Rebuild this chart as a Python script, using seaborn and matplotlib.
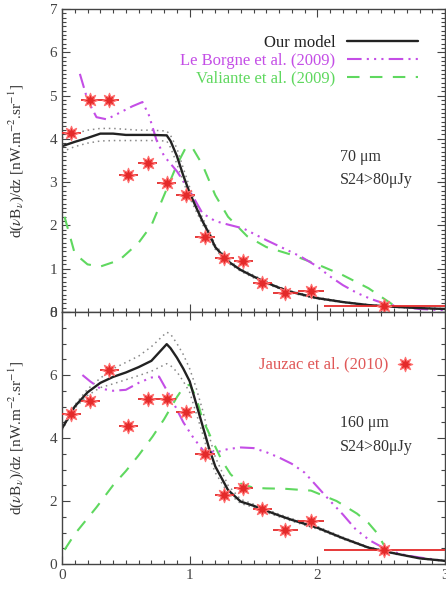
import numpy as np
import matplotlib
matplotlib.use('Agg')
import matplotlib.pyplot as plt
import seaborn as sns
from matplotlib.ticker import MultipleLocator

# Jauzac et al. (2010) stacking points
z_bins = [0.07, 0.22, 0.37, 0.52, 0.67, 0.82, 0.97, 1.12, 1.27, 1.42, 1.57, 1.75, 1.95, 2.52]
z_err_lo = [0.075, 0.075, 0.075, 0.075, 0.075, 0.075, 0.075, 0.075, 0.075, 0.075, 0.075, 0.1, 0.1, 0.47]
z_err_hi = [0.075, 0.075, 0.075, 0.075, 0.075, 0.075, 0.075, 0.075, 0.075, 0.075, 0.075, 0.1, 0.1, 0.5]
jauzac_70 = [4.13, 4.90, 4.90, 3.16, 3.44, 2.98, 2.70, 1.73, 1.25, 1.18, 0.67, 0.44, 0.48, 0.15]
jauzac_160 = [4.75, 5.16, 6.16, 4.37, 5.25, 5.25, 4.81, 3.49, 2.20, 2.42, 1.76, 1.07, 1.35, 0.44]

# our model + envelope
z_model = [0.0, 0.1, 0.2, 0.3, 0.4, 0.5, 0.6, 0.7, 0.82, 0.85, 0.9, 0.95, 1.0, 1.05, 1.1,
           1.15, 1.2, 1.3, 1.4, 1.5, 1.6, 1.7, 1.8, 2.0, 2.2, 2.4, 2.6, 2.8, 3.0]
model_70 = [3.83, 3.93, 4.02, 4.12, 4.12, 4.09, 4.09, 4.09, 4.08, 3.95, 3.6, 3.15, 2.75, 2.42, 2.1,
            1.82, 1.5, 1.17, 0.97, 0.82, 0.68, 0.56, 0.46, 0.32, 0.23, 0.16, 0.12, 0.09, 0.07]
upper_70 = [4.02, 4.12, 4.2, 4.24, 4.24, 4.22, 4.2, 4.2, 4.18, 4.08, 3.78, 3.32, 2.88, 2.52, 2.18,
            1.88, 1.55, 1.2, 1.0, 0.85, 0.7, 0.58, 0.48, 0.34, 0.24, 0.17, 0.13, 0.1, 0.08]
lower_70 = [3.7, 3.82, 3.9, 3.95, 3.96, 3.96, 3.96, 3.96, 3.95, 3.8, 3.42, 3.0, 2.64, 2.33, 2.03,
            1.76, 1.45, 1.13, 0.94, 0.79, 0.65, 0.54, 0.44, 0.3, 0.22, 0.15, 0.11, 0.08, 0.06]
model_160 = [4.3, 5.0, 5.45, 5.75, 5.94, 6.08, 6.25, 6.45, 6.98, 6.85, 6.55, 6.2, 5.8, 5.1, 4.4,
             3.7, 3.1, 2.35, 1.98, 1.85, 1.69, 1.54, 1.4, 1.15, 0.82, 0.52, 0.34, 0.18, 0.1]
upper_160 = [4.35, 5.05, 5.55, 5.9, 6.2, 6.4, 6.6, 6.9, 7.36, 7.3, 7.0, 6.65, 6.2, 5.6, 4.9,
             4.1, 3.4, 2.5, 2.05, 1.9, 1.74, 1.58, 1.44, 1.19, 0.85, 0.54, 0.36, 0.19, 0.11]
lower_160 = [4.25, 4.95, 5.35, 5.6, 5.72, 5.85, 5.98, 6.12, 6.36, 6.3, 6.1, 5.8, 5.45, 4.8, 4.15,
             3.45, 2.9, 2.25, 1.92, 1.8, 1.64, 1.5, 1.36, 1.11, 0.79, 0.5, 0.32, 0.17, 0.09]

# Le Borgne et al. (2009)
z_lb70 = [0.14, 0.2, 0.27, 0.35, 0.45, 0.55, 0.63, 0.68, 0.74, 0.8, 0.9, 1.0, 1.1, 1.2, 1.3,
          1.42, 1.6, 1.75, 1.87, 2.0, 2.1, 2.2, 2.31, 2.42, 2.52, 2.65, 2.8, 3.0]
lb_70 = [5.5, 4.9, 4.5, 4.45, 4.6, 4.75, 4.85, 4.55, 3.97, 3.6, 3.25, 2.8, 2.28, 2.1, 2.02,
         1.93, 1.66, 1.45, 1.28, 1.05, 0.82, 0.62, 0.44, 0.3, 0.2, 0.12, 0.07, 0.04]
z_lb160 = [0.16, 0.22, 0.3, 0.4, 0.5, 0.6, 0.7, 0.76, 0.85, 0.95, 1.03, 1.11, 1.21, 1.3, 1.4,
           1.5, 1.6, 1.7, 1.8, 1.9, 2.0, 2.1, 2.2, 2.3, 2.41, 2.5, 2.6, 2.7, 2.83, 3.0]
lb_160 = [6.0, 5.8, 5.57, 5.5, 5.53, 5.75, 5.92, 5.95, 5.3, 4.5, 4.0, 3.58, 3.55, 3.65, 3.7,
          3.68, 3.55, 3.38, 3.18, 2.9, 2.45, 2.0, 1.57, 1.1, 0.75, 0.55, 0.38, 0.27, 0.19, 0.1]

# Valiante et al. (2009)
z_v70 = [0.02, 0.1, 0.2, 0.3, 0.45, 0.6, 0.7, 0.8, 0.9, 0.97, 1.02, 1.1, 1.2, 1.3, 1.45,
         1.6, 1.8, 2.0, 2.2, 2.4, 2.5, 2.6]
val_70 = [2.2, 1.35, 1.1, 1.05, 1.2, 1.6, 2.0, 2.7, 3.4, 3.8, 3.8, 3.4, 2.7, 2.2, 1.75,
          1.5, 1.32, 1.1, 0.85, 0.55, 0.35, 0.15]
z_v160 = [0.02, 0.1, 0.2, 0.27, 0.4, 0.5, 0.6, 0.71, 0.8, 0.9, 0.95, 1.0, 1.05, 1.1, 1.18,
          1.25, 1.32, 1.4, 1.5, 1.6, 1.74, 1.95, 2.15, 2.31, 2.4, 2.47, 2.53, 2.6]
val_160 = [0.45, 0.95, 1.45, 1.8, 2.5, 2.95, 3.45, 4.05, 4.6, 5.3, 5.6, 5.7, 5.3, 4.6, 3.9,
           3.3, 2.85, 2.55, 2.42, 2.4, 2.39, 2.33, 2.0, 1.6, 1.3, 0.97, 0.53, 0.3]

sns.set_theme(style='ticks')
plt.rcParams['font.family'] = ['Liberation Serif', 'DejaVu Serif']
plt.rcParams['mathtext.fontset'] = 'stix'

col_lb = '#c44ee6'
col_val = '#5fd85f'
col_red = '#e42a2a'
col_txt = '#333333'

fig = plt.figure(figsize=(4.46, 5.95), dpi=100)
ax1 = fig.add_axes([0.139, 0.4756, 0.859, 0.5094])
ax2 = fig.add_axes([0.139, 0.0521, 0.859, 0.4235])

panels = [
    (ax1, model_70, upper_70, lower_70, z_lb70, lb_70, z_v70, val_70, jauzac_70, 7, 0.1, '70'),
    (ax2, model_160, upper_160, lower_160, z_lb160, lb_160, z_v160, val_160, jauzac_160, 8, 0.5, '160'),
]

for ax, mod, up, lo, zlb, lb, zv, val, jz, ymax, yminor, band in panels:
    sns.lineplot(x=z_model, y=up, ax=ax, color='#888888', lw=1.1, linestyle=(0, (1, 2.5)), sort=False, estimator=None)
    sns.lineplot(x=z_model, y=lo, ax=ax, color='#888888', lw=1.1, linestyle=(0, (1, 2.5)), sort=False, estimator=None)
    sns.lineplot(x=zv, y=val, ax=ax, color=col_val, lw=1.5, linestyle=(0, (6, 5)), sort=False,
                 estimator=None, label='Valiante et al. (2009)')
    sns.lineplot(x=zlb, y=lb, ax=ax, color=col_lb, lw=1.5, linestyle=(0, (7, 2.5, 1, 2.5, 1, 2.5, 1, 2.5)),
                 sort=False, estimator=None, label='Le Borgne et al. (2009)')
    sns.lineplot(x=z_model, y=mod, ax=ax, color='#222222', lw=1.7, sort=False, estimator=None, label='Our model')

    ax.errorbar(z_bins, jz, xerr=[z_err_lo, z_err_hi], fmt='none', ecolor=col_red, elinewidth=1.3,
                capsize=0, zorder=4)
    sns.scatterplot(x=z_bins, y=jz, ax=ax, marker=(8, 1, 0), s=110, color=col_red, edgecolor='#ff7070',
                    linewidth=0.8, zorder=5, label='Jauzac et al. (2010)')

    ax.set_xlim(0, 3)
    ax.set_ylim(0, ymax)
    ax.xaxis.set_major_locator(MultipleLocator(1))
    ax.xaxis.set_minor_locator(MultipleLocator(0.1))
    ax.yaxis.set_major_locator(MultipleLocator(1 if ymax == 7 else 2))
    ax.yaxis.set_minor_locator(MultipleLocator(yminor))
    ax.tick_params(which='both', direction='in', top=True, right=True, colors='#444444',
                   labelsize=11, width=0.8)
    ax.tick_params(which='major', length=6)
    ax.tick_params(which='minor', length=3)
    for s in ax.spines.values():
        s.set_color('#444444')
        s.set_linewidth(1.0)
    ax.set_xlabel('')
    ax.set_ylabel(r'd($\nu$B$_\nu$)/dz [nW.m$^{-2}$.sr$^{-1}$]', fontsize=11, color=col_txt)
    ax.yaxis.set_label_coords(-0.093, 0.5)
    ax.text(0.726, 0.51 if band == '70' else 0.56, band + ' \u03bcm', transform=ax.transAxes,
            fontsize=11.5, color=col_txt, va='center')
    ax.text(0.726, 0.435 if band == '70' else 0.464, 'S24>80\u03bcJy', transform=ax.transAxes,
            fontsize=11.5, color=col_txt, va='center')

ax1.tick_params(labelbottom=False)
ax2.yaxis.get_major_ticks()[-1].label1.set_visible(False)

h, l = ax1.get_legend_handles_labels()
order = [l.index('Our model'), l.index('Le Borgne et al. (2009)'), l.index('Valiante et al. (2009)')]
ax1.legend([h[i] for i in order], [l[i] for i in order], loc='upper right', bbox_to_anchor=(0.968, 0.963),
           markerfirst=False, frameon=False, fontsize=12, handlelength=4.25, handletextpad=0.7,
           labelspacing=0.1, labelcolor=['#222222', col_lb, col_val])

h, l = ax2.get_legend_handles_labels()
i = l.index('Jauzac et al. (2010)')
ax2.legend([h[i]], [l[i]], loc='upper right', bbox_to_anchor=(0.957, 0.885), markerfirst=False,
           frameon=False, fontsize=12, handlelength=1.0, handletextpad=0.5, labelcolor=['#e05858'])

fig.savefig('out.png', dpi=100)
